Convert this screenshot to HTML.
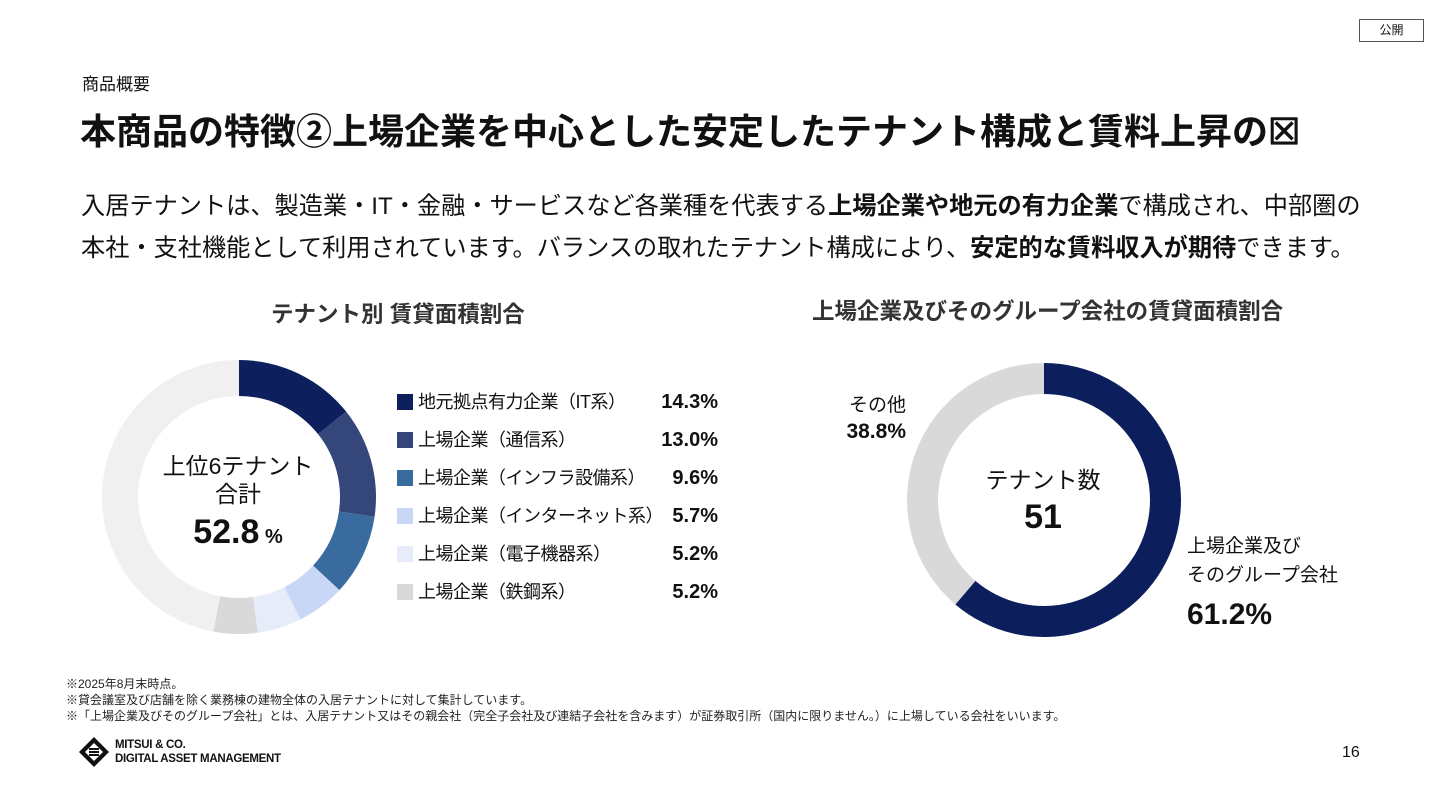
<!DOCTYPE html>
<html><head><meta charset="utf-8">
<style>
body{margin:0;width:1440px;height:810px;background:#fff;font-family:"Liberation Sans","Noto Sans CJK JP",sans-serif;color:#111;position:relative;overflow:hidden}
.a{position:absolute;white-space:nowrap}
.b{font-weight:bold}
</style></head><body>
<div class="a" style="left:1359px;top:19px;width:65px;height:23px;border:1px solid #555;box-sizing:border-box;font-size:12px;text-align:center;line-height:21px">公開</div>
<div class="a" style="left:82px;top:70px;font-size:17px">商品概要</div>
<div class="a b" style="left:80px;top:103px;font-size:36px">本商品の特徴②上場企業を中心とした安定したテナント構成と賃料上昇の☒</div>
<div class="a" style="left:81px;top:186px;font-size:24.2px;line-height:42px">入居テナントは、製造業・IT・金融・サービスなど各業種を代表する<b>上場企業や地元の有力企業</b>で構成され、中部圏の<br>本社・支社機能として利用されています。バランスの取れたテナント構成により、<b>安定的な賃料収入が期待</b>できます。</div>
<div class="a b" style="left:271px;top:297px;font-size:22.5px;color:#333">テナント別 賃貸面積割合</div>
<div class="a b" style="left:812px;top:294px;font-size:22.5px;color:#333">上場企業及びそのグループ会社の賃貸面積割合</div>
<svg class="a" style="left:0;top:0" width="1440" height="810">
<g id="left"></g><g id="right"></g>
</svg>
<div class="a" style="left:158px;top:452px;width:160px;text-align:center;font-size:23px;line-height:28px">上位6テナント<br>合計<br><span class="b" style="font-size:34px;line-height:48px">52.8</span><span class="b" style="font-size:20px"> %</span></div>
<div id="legend"></div>
<div class="a" style="left:963px;top:465px;width:160px;text-align:center;font-size:23px;line-height:30px">テナント数<br><span class="b" style="font-size:34px;line-height:44px">51</span></div>
<div class="a" style="left:830px;top:393px;width:76px;text-align:right;font-size:19px;line-height:26px">その他<br><b style="font-size:21px">38.8%</b></div>
<div class="a" style="left:1187px;top:532px;font-size:19px;line-height:29px">上場企業及び<br>そのグループ会社<br><b style="font-size:30px;line-height:50px">61.2%</b></div>
<div class="a" style="left:66px;top:676px;font-size:12px;line-height:16px;color:#222">※2025年8月末時点。<br>※貸会議室及び店舗を除く業務棟の建物全体の入居テナントに対して集計しています。<br>※「上場企業及びそのグループ会社」とは、入居テナント又はその親会社（完全子会社及び連結子会社を含みます）が証券取引所（国内に限りません。）に上場している会社をいいます。</div>
<svg class="a" style="left:78px;top:736px" width="32" height="32"><path d="M16 1 L31 16 L16 31 L1 16Z" fill="#111"/><path d="M16 7 L25 16 L16 25 L7 16Z" fill="#fff"/><rect x="11" y="12" width="10" height="2" fill="#111"/><rect x="11" y="15" width="10" height="2" fill="#111"/><rect x="11" y="18" width="10" height="2" fill="#111"/></svg>
<div class="a b" style="left:115px;top:738px;font-size:11.5px;line-height:14px;letter-spacing:-0.3px">MITSUI &amp; CO.<br>DIGITAL ASSET MANAGEMENT</div>
<div class="a" style="left:1342px;top:744px;font-size:16px">16</div>
<script>
const leftLabels=["地元拠点有力企業（IT系）","上場企業（通信系）","上場企業（インフラ設備系）","上場企業（インターネット系）","上場企業（電子機器系）","上場企業（鉄鋼系）"];
const leftValues=[14.3,13.0,9.6,5.7,5.2,5.2];
const leftColors=["#0d1f5c","#34467a","#3a6b9f","#c8d7f6","#e6ecfa","#d9d9d9"];
const rightLabels=["上場企業及びそのグループ会社","その他"];
const rightValues=[61.2,38.8];
const rightColors=["#0c1f5c","#d9d9d9"];
const NS="http://www.w3.org/2000/svg";
function arc(cx,cy,r0,r1,a0,a1){
 const p=(r,a)=>[cx+r*Math.sin(a*2*Math.PI/100),cy-r*Math.cos(a*2*Math.PI/100)];
 const l=(a1-a0)>50?1:0;
 const [x0,y0]=p(r1,a0),[x1,y1]=p(r1,a1),[x2,y2]=p(r0,a1),[x3,y3]=p(r0,a0);
 return `M${x0} ${y0}A${r1} ${r1} 0 ${l} 1 ${x1} ${y1}L${x2} ${y2}A${r0} ${r0} 0 ${l} 0 ${x3} ${y3}Z`;
}
function donut(g,vals,cols,cx,cy,r0,r1,name){
 let a=0;
 vals.forEach((v,i)=>{const e=document.createElementNS(NS,'path');
  e.setAttribute('d',arc(cx,cy,r0,r1,a,a+v));e.setAttribute('fill',cols[i]);
  
  
  g.appendChild(e);a+=v;});
 if(a<100){const e=document.createElementNS(NS,'path');
  e.setAttribute('d',arc(cx,cy,r0,r1,a,99.999));e.setAttribute('fill','#f0f0f0');
  
  
  g.appendChild(e);}
}
donut(document.getElementById('left'),leftValues,leftColors,239,497,101,137,'left');
donut(document.getElementById('right'),rightValues,rightColors,1044,500,106,137,'right');
const lg=document.getElementById('legend');
leftLabels.forEach((t,i)=>{const y=389+i*38;
 const d=document.createElement('div');d.className='a';
 
 
 d.style.cssText=`left:397px;top:${y}px;font-size:18px;line-height:26px;letter-spacing:-0.5px`;
 d.innerHTML=`<span style="display:inline-block;width:16px;height:16px;background:${leftColors[i]};vertical-align:-2px;margin-right:5px"></span>${t}`;
 lg.appendChild(d);
 const v=document.createElement('div');v.className='a b';
 
 
 v.style.cssText=`left:620px;width:98px;text-align:right;top:${y}px;font-size:20px;line-height:26px`;
 v.textContent=leftValues[i].toFixed(1)+'%';lg.appendChild(v);});
</script>
</body></html>
